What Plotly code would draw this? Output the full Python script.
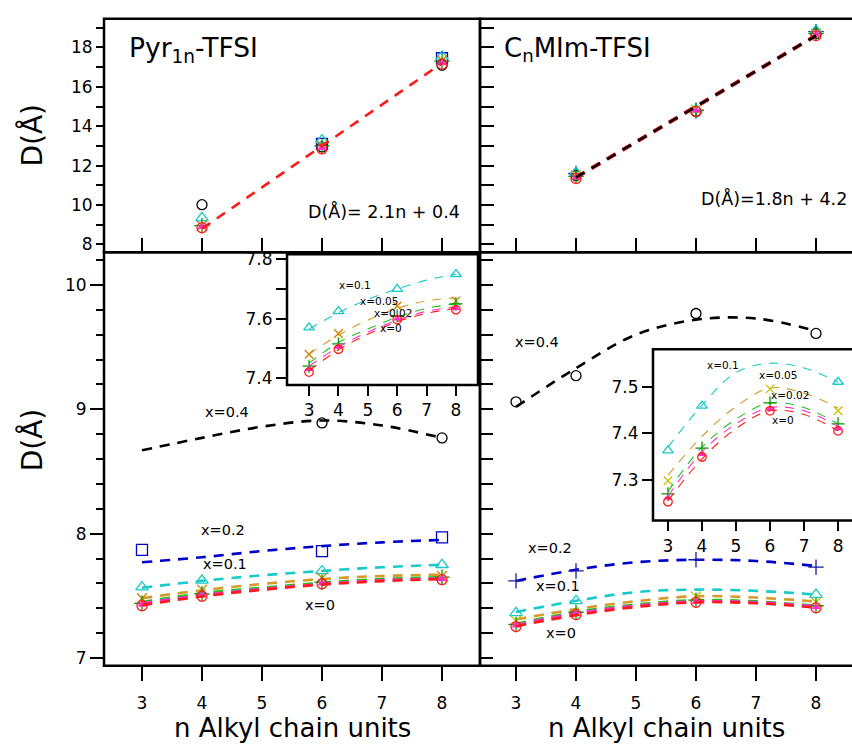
import plotly.graph_objects as go

W, H = 852, 747
FONT = "DejaVu Sans"

# ---------------- data ----------------
n_fit = [3, 4, 5, 6, 7, 8]
n_top = [4, 6, 8]

series = ["x=0.4", "x=0.2", "x=0.1", "x=0.05", "x=0.02", "x=0.01", "x=0"]

# Pyr1n-TFSI : D(Å) vs n (top panel)
pyr_top = {
    "x=0.4": [10.02, 12.95, 17.10],
    "x=0.2": [None, 13.10, 17.45],
    "x=0.1": [9.35, 13.30, 17.55],
    "x=0.05": [8.95, 13.00, 17.35],
    "x=0.02": [8.95, 13.00, 17.30],
    "x=0.01": [8.90, 12.90, 17.20],
    "x=0": [8.85, 12.85, 17.15],
}
# CnMIm-TFSI : D(Å) vs n (top panel)
cnmim_top = {
    "x=0.4": [11.50, 14.75, 18.70],
    "x=0.2": [11.60, 14.80, 18.80],
    "x=0.1": [11.65, 14.85, 18.85],
    "x=0.05": [11.50, 14.85, 18.70],
    "x=0.02": [11.45, 14.80, 18.70],
    "x=0.01": [11.40, 14.80, 18.65],
    "x=0": [11.35, 14.75, 18.60],
}
# linear fits quoted on the panels
pyr_slope, pyr_icpt = 2.1, 0.4
cnmim_slope, cnmim_icpt = 1.8, 4.2

# Pyr1n-TFSI lower panel: measured points
pyr_pts_n = {
    "x=0.4": [6, 8], "x=0.2": [3, 6, 8], "x=0.1": [3, 4, 6, 8],
    "x=0.05": [3, 4, 6, 8], "x=0.02": [3, 4, 6, 8],
    "x=0.01": [3, 4, 6, 8], "x=0": [3, 4, 6, 8],
}
pyr_pts_d = {
    "x=0.4": [8.89, 8.77],
    "x=0.2": [7.87, 7.86, 7.97],
    "x=0.1": [7.57, 7.625, 7.70, 7.75],
    "x=0.05": [7.48, 7.55, 7.643, 7.66],
    "x=0.02": [7.44, 7.515, 7.61, 7.65],
    "x=0.01": [7.43, 7.505, 7.60, 7.635],
    "x=0": [7.42, 7.497, 7.597, 7.63],
}
# Pyr1n-TFSI lower panel: fitted curves at n = 3..8
pyr_fit = {
    "x=0.4": [8.67, 8.77, 8.86, 8.91, 8.87, 8.77],
    "x=0.2": [7.77, 7.81, 7.86, 7.90, 7.93, 7.95],
    "x=0.1": [7.565, 7.62, 7.665, 7.70, 7.73, 7.75],
    "x=0.05": [7.48, 7.545, 7.595, 7.635, 7.66, 7.67],
    "x=0.02": [7.45, 7.52, 7.565, 7.605, 7.635, 7.65],
    "x=0.01": [7.44, 7.505, 7.555, 7.595, 7.625, 7.64],
    "x=0": [7.425, 7.495, 7.548, 7.59, 7.618, 7.635],
}

# CnMIm-TFSI lower panel: measured points
cnmim_pts_n = {
    "x=0.4": [3, 4, 6, 8], "x=0.2": [3, 4, 6, 8], "x=0.1": [3, 4, 8],
    "x=0.05": [3, 6, 8], "x=0.02": [3, 4, 6, 8],
    "x=0.01": [3, 4, 6, 8], "x=0": [3, 4, 6, 8],
}
cnmim_pts_d = {
    "x=0.4": [9.06, 9.27, 9.77, 9.61],
    "x=0.2": [7.62, 7.70, 7.79, 7.73],
    "x=0.1": [7.363, 7.459, 7.51],
    "x=0.05": [7.298, 7.495, 7.448],
    "x=0.02": [7.27, 7.368, 7.465, 7.42],
    "x=0.01": [7.262, 7.355, 7.452, 7.41],
    "x=0": [7.253, 7.349, 7.448, 7.405],
}
cnmim_fit = {
    "x=0.4": [9.02, 9.33, 9.60, 9.72, 9.73, 9.63],
    "x=0.2": [7.62, 7.71, 7.77, 7.79, 7.78, 7.74],
    "x=0.1": [7.37, 7.46, 7.53, 7.55, 7.54, 7.51],
    "x=0.05": [7.31, 7.393, 7.457, 7.497, 7.486, 7.454],
    "x=0.02": [7.275, 7.37, 7.43, 7.465, 7.455, 7.42],
    "x=0.01": [7.265, 7.36, 7.42, 7.455, 7.448, 7.415],
    "x=0": [7.255, 7.345, 7.41, 7.448, 7.44, 7.405],
}

# ---------------- styles ----------------
line_color = {
    "x=0.4": "#000000", "x=0.2": "#0000C8", "x=0.1": "#18CACA",
    "x=0.05": "#D49A2A", "x=0.02": "#1EC21E", "x=0.01": "#FF2ECF", "x=0": "#FF1A1A",
}
marker_pyr = {
    "x=0.4": ("circle-open", "#000000", 10), "x=0.2": ("square-open", "#0000C8", 11),
    "x=0.1": ("triangle-up-open", "#18CACA", 11), "x=0.05": ("x-thin-open", "#CC8400", 10),
    "x=0.02": ("cross-thin-open", "#009A00", 11), "x=0.01": ("triangle-up", "#FF2ECF", 6),
    "x=0": ("circle-open", "#FF1A1A", 10),
}
marker_cn = dict(marker_pyr)
marker_cn["x=0.2"] = ("cross-thin-open", "#1A1AA8", 11)
marker_cn["x=0.05"] = ("x-thin-open", "#C8C000", 10)


def px(x):
    return x / W


def py(y):
    return 1 - y / H


fig = go.Figure()


def add_markers(xa, ya, xs, ys, style, scale=1.0):
    sym, col, size = style
    fig.add_trace(go.Scatter(
        x=xs, y=ys, mode="markers", xaxis=xa, yaxis=ya, showlegend=False,
        marker=dict(symbol=sym, color=col, size=size * scale,
                    line=dict(color=col, width=1.3)),
        hoverinfo="skip"))


def add_curve(xa, ya, xs, ys, col, width, dash):
    fig.add_trace(go.Scatter(
        x=xs, y=ys, mode="lines", xaxis=xa, yaxis=ya, showlegend=False,
        line=dict(color=col, width=width, dash=dash, shape="spline", smoothing=1.0),
        hoverinfo="skip"))


# top-left: Pyr1n-TFSI
for s in series:
    add_markers("x", "y", n_top, pyr_top[s], marker_pyr[s])
fit_n = [4, 8]
add_curve("x", "y", fit_n, [pyr_slope * v + pyr_icpt for v in fit_n], "#FF1A1A", 2.6, "10px,8px")

# top-right: CnMIm-TFSI
for s in series:
    add_markers("x2", "y2", n_top, cnmim_top[s], marker_cn[s])
add_curve("x2", "y2", fit_n, [cnmim_slope * v + cnmim_icpt for v in fit_n], "#FF1A1A", 4.0, "10px,8px")
add_curve("x2", "y2", fit_n, [cnmim_slope * v + cnmim_icpt for v in fit_n], "#000000", 2.6, "10px,8px")

# lower panels and insets
for s in series:
    add_curve("x3", "y3", n_fit, pyr_fit[s], line_color[s], 2.6, "10px,8px")
    add_markers("x3", "y3", pyr_pts_n[s], pyr_pts_d[s], marker_pyr[s])
    add_curve("x4", "y4", n_fit, cnmim_fit[s], line_color[s], 2.6, "10px,8px")
    add_markers("x4", "y4", cnmim_pts_n[s], cnmim_pts_d[s], marker_cn[s])

inset_series = ["x=0.1", "x=0.05", "x=0.02", "x=0.01", "x=0"]
for s in inset_series:
    add_curve("x5", "y5", n_fit, pyr_fit[s], line_color[s], 1.1, "9px,8px")
    add_markers("x5", "y5", pyr_pts_n[s], pyr_pts_d[s], marker_pyr[s], 0.85)
    add_curve("x6", "y6", n_fit, cnmim_fit[s], line_color[s], 1.1, "9px,8px")
    add_markers("x6", "y6", cnmim_pts_n[s], cnmim_pts_d[s], marker_cn[s], 0.85)

# ---------------- axes ----------------
tickfont = dict(family=FONT, size=17, color="black")
base = dict(showgrid=False, zeroline=False, showline=False, tickcolor="black",
            tickwidth=2, tickfont=tickfont, fixedrange=True)

x_ticks = [3, 4, 5, 6, 7, 8]
top_y_major = [8, 10, 12, 14, 16, 18]
top_y_all = list(range(8, 20))
low_y_minor = [round(7 + 0.2 * i, 1) for i in range(17)]


def minor(vals, ticks, length):
    return dict(tickmode="array", tickvals=vals, ticks=ticks, ticklen=length,
                tickwidth=2, tickcolor="black")


fig.update_layout(
    width=W, height=H, margin=dict(l=0, r=0, t=0, b=0),
    paper_bgcolor="white", plot_bgcolor="white",
    font=dict(family=FONT, color="black"),
    xaxis=dict(base, domain=[px(104), px(480)], range=[2.367, 8.633], anchor="y",
               tickmode="array", tickvals=x_ticks, ticks="inside", ticklen=14,
               showticklabels=False),
    yaxis=dict(base, domain=[py(250), py(14)], range=[7.6, 19.45], anchor="x",
               tickmode="array", tickvals=top_y_major, ticks="outside", ticklen=7,
               minor=minor([9, 11, 13, 15, 17, 19], "outside", 7)),
    xaxis2=dict(base, domain=[px(480), 1.0], range=[2.4, 8.6], anchor="y2",
                tickmode="array", tickvals=x_ticks, ticks="inside", ticklen=14,
                showticklabels=False),
    yaxis2=dict(base, domain=[py(250), py(14)], range=[7.6, 19.45], anchor="x2",
                tickmode="array", tickvals=top_y_all, ticks="inside", ticklen=14,
                showticklabels=False),
    xaxis3=dict(base, domain=[px(104), px(480)], range=[2.367, 8.633], anchor="y3",
                tickmode="array", tickvals=x_ticks, ticks="outside", ticklen=14,
                ticklabelstandoff=8),
    yaxis3=dict(base, domain=[py(668), py(250)], range=[6.937, 10.262], anchor="x3",
                tickmode="array", tickvals=[7, 8, 9, 10], ticks="outside", ticklen=13,
                minor=minor(low_y_minor, "outside", 7)),
    xaxis4=dict(base, domain=[px(480), 1.0], range=[2.4, 8.6], anchor="y4",
                tickmode="array", tickvals=x_ticks, ticks="outside", ticklen=14,
                ticklabelstandoff=8),
    yaxis4=dict(base, domain=[py(668), py(250)], range=[6.937, 10.262], anchor="x4",
                tickmode="array", tickvals=low_y_minor, ticks="inside", ticklen=13,
                showticklabels=False),
    xaxis5=dict(base, domain=[px(287), px(478)], range=[2.25, 8.75], anchor="y5",
                tickmode="array", tickvals=x_ticks, ticks="outside", ticklen=10),
    yaxis5=dict(base, domain=[py(384), py(252)], range=[7.377, 7.817], anchor="x5",
                tickmode="array", tickvals=[7.4, 7.6, 7.8], ticks="outside", ticklen=10,
                minor=minor([7.5, 7.7], "outside", 10)),
    xaxis6=dict(base, domain=[px(653), 1.0], range=[2.56, 8.41], anchor="y6",
                tickmode="array", tickvals=x_ticks, ticks="outside", ticklen=10),
    yaxis6=dict(base, domain=[py(521), py(348)], range=[7.213, 7.58], anchor="x6",
                tickmode="array", tickvals=[7.3, 7.4, 7.5], ticks="outside", ticklen=10),
)

# ---------------- frames ----------------
frame = dict(color="black", width=2.5)
for (x0, y0, x1, y1) in [(104, 14, 480, 250), (480, 14, 860, 250),
                         (104, 250, 480, 668), (480, 250, 860, 668),
                         (287, 252, 478, 384), (653, 348, 860, 521)]:
    fig.add_shape(type="rect", xref="paper", yref="paper",
                  x0=px(x0), x1=px(x1), y0=py(y1), y1=py(y0), line=frame)

# ---------------- text ----------------
def note(text, x, y, size, xanchor="left", yanchor="middle", angle=0):
    fig.add_annotation(text=text, xref="paper", yref="paper", x=px(x), y=py(y),
                       xanchor=xanchor, yanchor=yanchor, showarrow=False, textangle=angle,
                       font=dict(family=FONT, size=size, color="black"))


note("Pyr<sub>1n</sub>-TFSI", 127, 45, 26.5)
note("C<sub>n</sub>MIm-TFSI", 502, 45, 26)
note("D(Å)= 2.1n + 0.4", 462, 209, 17.5, xanchor="right")
note("D(Å)=1.8n + 4.2", 849, 196, 17.5, xanchor="right")
note("D(Å)", 32, 132, 28, xanchor="center", angle=-90)
note("D(Å)", 32, 440, 28, xanchor="center", angle=-90)
note("n Alkyl chain units", 292, 731, 26, xanchor="center")
note("n Alkyl chain units", 666, 731, 26, xanchor="center")

# series labels, main panels
for (t, x, y) in [("x=0.4", 227, 411), ("x=0.2", 223, 531), ("x=0.1", 225, 565), ("x=0", 320, 606),
                  ("x=0.4", 537, 341), ("x=0.2", 550, 549), ("x=0.1", 558, 587), ("x=0", 561, 635)]:
    note(t, x, y, 14.5, xanchor="center")
# series labels, insets
for (t, x, y) in [("x=0.1", 355, 283), ("x=0.05", 379, 299), ("x=0.02", 393, 311), ("x=0", 391, 327),
                  ("x=0.1", 723, 364), ("x=0.05", 778, 374), ("x=0.02", 790, 394), ("x=0", 783, 419)]:
    note(t, x, y, 10.5, xanchor="center")

fig.write_html("out.html")
